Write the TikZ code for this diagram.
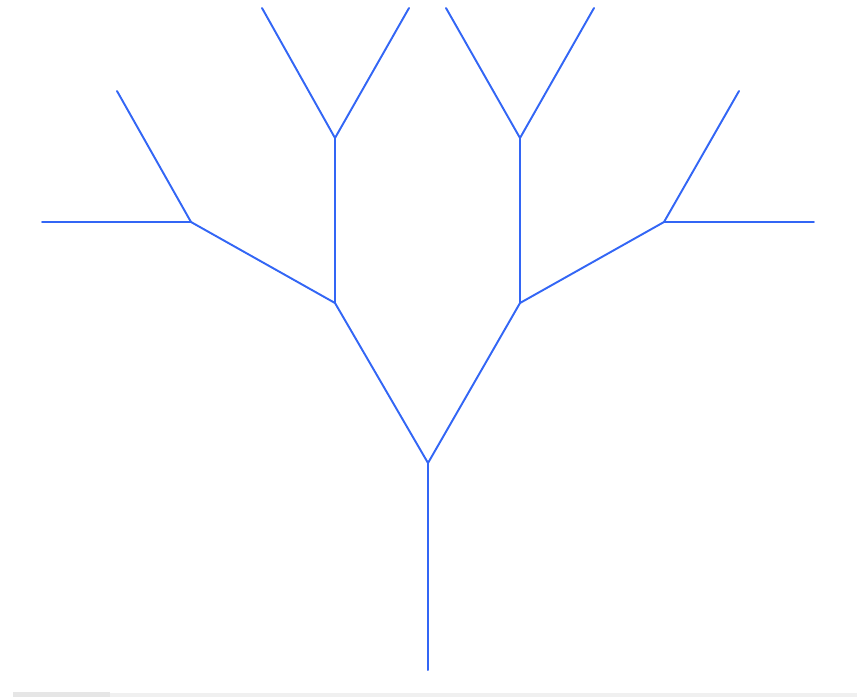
\documentclass[tikz,border=0pt]{standalone}
\usepackage{xcolor}
\usepackage{tikz}
\definecolor{branchc}{HTML}{3366F5}
\definecolor{barc}{HTML}{E6E6E6}
\definecolor{barsoft}{HTML}{F0F0F0}
\tikzset{
  br/.style={branchc,line width=1.1pt,line cap=round,line join=round}
}
\begin{document}
\begin{tikzpicture}[x=0.02cm,y=-0.02cm]
\useasboundingbox (0,0) rectangle (857,698);
% trunk and forks
\coordinate (root) at (428,670);
\coordinate (f0) at (428,463);
\coordinate (fl) at (335,303);
\coordinate (fr) at (520,303);
\coordinate (fll) at (191,222);
\coordinate (flu) at (335,138);
\coordinate (fru) at (520,138);
\coordinate (frr) at (664,222);
% tips
\coordinate (t1) at (42,222);
\coordinate (t2) at (117,91);
\coordinate (t3) at (262,8);
\coordinate (t4) at (409,8);
\coordinate (t5) at (446,8);
\coordinate (t6) at (594,8);
\coordinate (t7) at (739,91);
\coordinate (t8) at (814,222);
\draw[br] (root)--(f0);
\draw[br] (fl)--(f0)--(fr);
\draw[br] (fll)--(fl)--(flu);
\draw[br] (fru)--(fr)--(frr);
\draw[br] (t1)--(fll)--(t2);
\draw[br] (t3)--(flu)--(t4);
\draw[br] (t5)--(fru)--(t6);
\draw[br] (t7)--(frr)--(t8);
% scroll bar
\fill[barsoft] (13,693) rectangle (857,697);
\fill[barc] (13,692) rectangle (110,697);
\end{tikzpicture}
\end{document}
